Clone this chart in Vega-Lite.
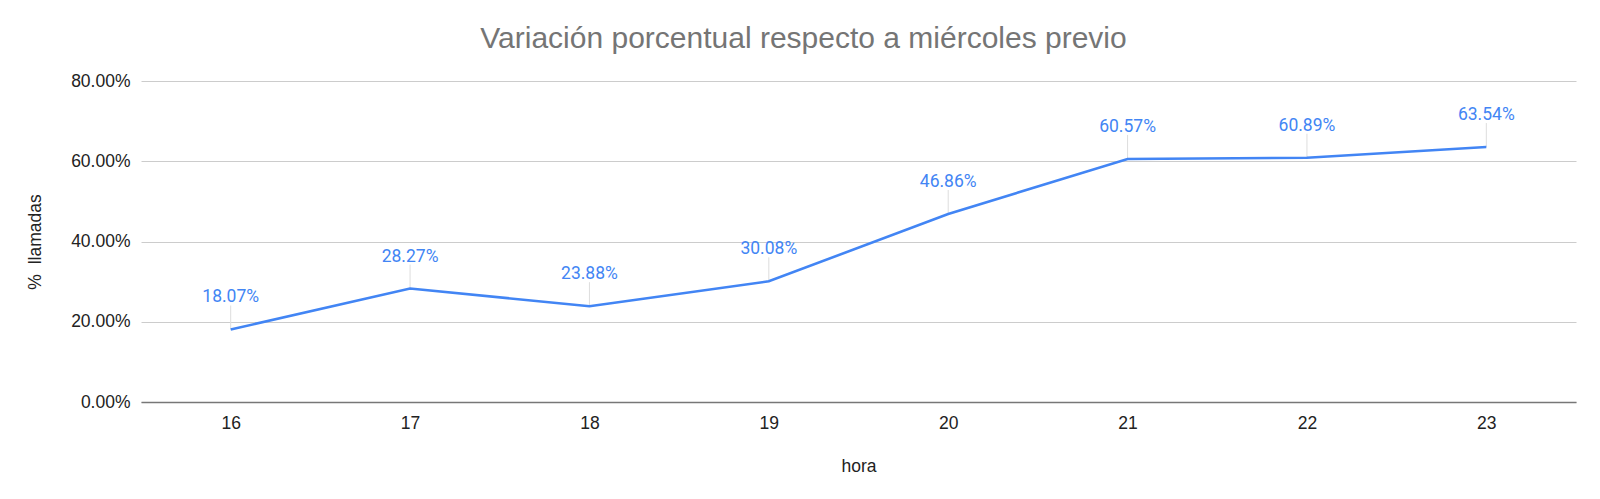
{
  "$schema": "https://vega.github.io/schema/vega-lite/v6.json",
  "autosize": {"type": "none"},
  "width": 1435,
  "height": 321,
  "padding": {"left": 141, "top": 81, "right": 24, "bottom": 97},
  "background": "white",
  "title": {
    "text": "Variación porcentual respecto a miércoles previo",
    "font": "Liberation Sans",
    "fontSize": 30,
    "fontWeight": "normal",
    "color": "#757575",
    "anchor": "middle",
    "baseline": "alphabetic",
    "dx": -55,
    "dy": 32,
    "offset": 26
  },
  "data": {
    "values": [
      {"hora": "16", "pct": 0.1807},
      {"hora": "17", "pct": 0.2827},
      {"hora": "18", "pct": 0.2388},
      {"hora": "19", "pct": 0.3008},
      {"hora": "20", "pct": 0.4686},
      {"hora": "21", "pct": 0.6057},
      {"hora": "22", "pct": 0.6089},
      {"hora": "23", "pct": 0.6354}
    ]
  },
  "encoding": {
    "x": {
      "field": "hora",
      "type": "ordinal",
      "scale": {"type": "point", "padding": 0.5},
      "axis": {
        "title": "hora",
        "labelAngle": 0,
        "labelFont": "Liberation Sans",
        "labelFontSize": 17.5,
        "labelColor": "#222222",
        "labelPadding": 12,
        "ticks": false,
        "grid": false,
        "domainColor": "#777777",
        "domainWidth": 1.5,
        "titleFont": "Liberation Sans",
        "titleFontSize": 17.5,
        "titleFontWeight": "normal",
        "titleColor": "#222222",
        "titlePadding": 26
      }
    },
    "y": {
      "field": "pct",
      "type": "quantitative",
      "scale": {"domain": [0, 0.8], "nice": false},
      "axis": {
        "title": "% \u00a0llamadas",
        "values": [0, 0.2, 0.4, 0.6, 0.8],
        "format": ".2%",
        "labelFont": "Liberation Sans",
        "labelFontSize": 17.5,
        "labelColor": "#222222",
        "labelPadding": 11,
        "ticks": false,
        "domain": false,
        "gridColor": "#cccccc",
        "gridWidth": 1,
        "titleFont": "Liberation Sans",
        "titleFontSize": 17.5,
        "titleFontWeight": "normal",
        "titleColor": "#222222",
        "titlePadding": 26
      }
    }
  },
  "layer": [
    {
      "mark": {"type": "rule", "color": "#dddddd", "strokeWidth": 1, "y2Offset": -24},
      "encoding": {"y2": {"field": "pct"}}
    },
    {
      "mark": {"type": "line", "color": "#4285f4", "strokeWidth": 2.6}
    },
    {
      "mark": {"type": "text", "font": "Roboto", "fontSize": 17.5, "color": "#4285f4", "baseline": "alphabetic", "dy": -27},
      "encoding": {"text": {"field": "pct", "type": "quantitative", "format": ".2%"}}
    }
  ],
  "config": {"view": {"stroke": null}}
}
